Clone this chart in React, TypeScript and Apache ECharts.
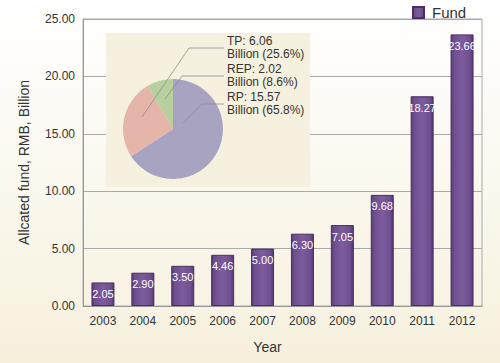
import React, { useEffect, useRef } from "react";
import * as echarts from "echarts";

const years = ["2003", "2004", "2005", "2006", "2007", "2008", "2009", "2010", "2011", "2012"];
const fund = [2.05, 2.9, 3.5, 4.46, 5.0, 6.3, 7.05, 9.68, 18.27, 23.66];
const pieNames = ["RP", "TP", "REP"];
const pieValues = [15.57, 6.06, 2.02];
const piePercents = ["65.8%", "25.6%", "8.6%"];
const pieColors = ["#a9a3c2", "#e4b5a8", "#b7d09e"];

// annotation layout for the pie's leader lines and labels
const pieLabelY = [104, 48, 76];
const pieLinePts = [
  [[183, 123], [202, 104], [224, 104]],
  [[142, 117], [189, 48], [224, 48]],
  [[165, 99], [182, 76], [224, 76]],
];

const FONT = "Liberation Sans, Arial, sans-serif";

export default function App() {
  const ref = useRef<HTMLDivElement>(null);
  useEffect(() => {
    if (!ref.current) return;
    const chart = echarts.init(ref.current, null, { renderer: "svg" });
    const pieTexts: any[] = [];
    pieNames.forEach((n, i) => {
      pieTexts.push({
        type: "text",
        z: 10,
        x: 227,
        y: pieLabelY[i] - 7,
        style: {
          text: `${n}: ${pieValues[i].toFixed(2)}`,
          fill: "#333",
          font: `12px ${FONT}`,
          verticalAlign: "middle",
          align: "left",
        },
      });
      pieTexts.push({
        type: "text",
        z: 10,
        x: 227,
        y: pieLabelY[i] + 6,
        style: {
          text: `Billion (${piePercents[i]})`,
          fill: "#333",
          font: `12px ${FONT}`,
          verticalAlign: "middle",
          align: "left",
        },
      });
    });
    chart.setOption({
      animation: false,
      backgroundColor: new echarts.graphic.LinearGradient(0, 0, 0, 1, [
        { offset: 0, color: "#ffffff" },
        { offset: 0.5, color: "#fbf8ee" },
        { offset: 1, color: "#f6f0dd" },
      ]),
      textStyle: { fontFamily: FONT },
      legend: {
        left: 407,
        top: 0,
        itemWidth: 11,
        itemHeight: 11,
        itemGap: 8,
        icon: "rect",
        textStyle: { fontSize: 15, color: "#333", fontFamily: FONT, padding: [0, 0, 0, 3] },
        data: ["Fund"],
      },
      grid: {
        left: 83,
        right: 18,
        top: 19,
        bottom: 57,
        show: true,
        borderColor: "#aaaaaa",
        borderWidth: 1,
        backgroundColor: "transparent",
      },
      graphic: [
        {
          type: "rect",
          z: 1,
          shape: { x: 106, y: 33, width: 204, height: 154 },
          style: { fill: "#f6f0de" },
        },
        ...pieLinePts.map((pts) => ({
          type: "polyline",
          z: 10,
          shape: { points: pts },
          style: { stroke: "#8f8f8f", lineWidth: 0.8, fill: null },
        })),
        ...pieTexts,
      ],
      xAxis: {
        type: "category",
        data: years,
        name: "Year",
        nameLocation: "middle",
        nameGap: 34,
        nameTextStyle: { fontSize: 14, color: "#333", padding: [0, 30, 0, 0], fontFamily: FONT },
        axisLine: { lineStyle: { color: "#999", width: 1 } },
        axisTick: { show: false },
        axisLabel: { fontSize: 12, color: "#333", margin: 9, fontFamily: FONT },
      },
      yAxis: {
        type: "value",
        min: 0,
        max: 25,
        interval: 5,
        name: "Allcated fund, RMB, Billion",
        nameLocation: "middle",
        nameGap: 52,
        nameTextStyle: { fontSize: 14, color: "#333", fontFamily: FONT },
        axisLine: { show: true, lineStyle: { color: "#999" } },
        axisTick: { show: false },
        splitLine: { lineStyle: { color: "#aaaaaa", width: 1 } },
        axisLabel: {
          fontSize: 12,
          color: "#333",
          margin: 8,
          fontFamily: FONT,
          formatter: (v: number) => v.toFixed(2),
        },
      },
      series: [
        {
          type: "bar",
          name: "Fund",
          data: fund,
          barWidth: 23,
          z: 3,
          itemStyle: {
            color: new echarts.graphic.LinearGradient(0, 0, 1, 0, [
              { offset: 0, color: "#5a3c78" },
              { offset: 0.15, color: "#6f4f90" },
              { offset: 0.5, color: "#7c5c9c" },
              { offset: 0.85, color: "#6f4f90" },
              { offset: 1, color: "#553872" },
            ]),
            borderColor: "#4a2f63",
            borderWidth: 1,
          },
          label: {
            show: true,
            position: "insideTop",
            distance: 6,
            color: "#ffffff",
            fontSize: 11,
            fontFamily: FONT,
            formatter: (p: any) => Number(p.value).toFixed(2),
          },
        },
        {
          type: "pie",
          z: 4,
          center: [173, 129],
          radius: [0, 50],
          startAngle: 90,
          clockwise: true,
          data: pieNames.map((n, i) => ({
            name: n,
            value: pieValues[i],
            itemStyle: { color: pieColors[i] },
          })),
          label: { show: false },
          labelLine: { show: false },
          emphasis: { disabled: true },
        },
      ],
    });
    return () => chart.dispose();
  }, []);
  return (
    <div
      ref={ref}
      style={{ position: "fixed", left: 0, top: 0, width: 500, height: 363 }}
    />
  );
}
